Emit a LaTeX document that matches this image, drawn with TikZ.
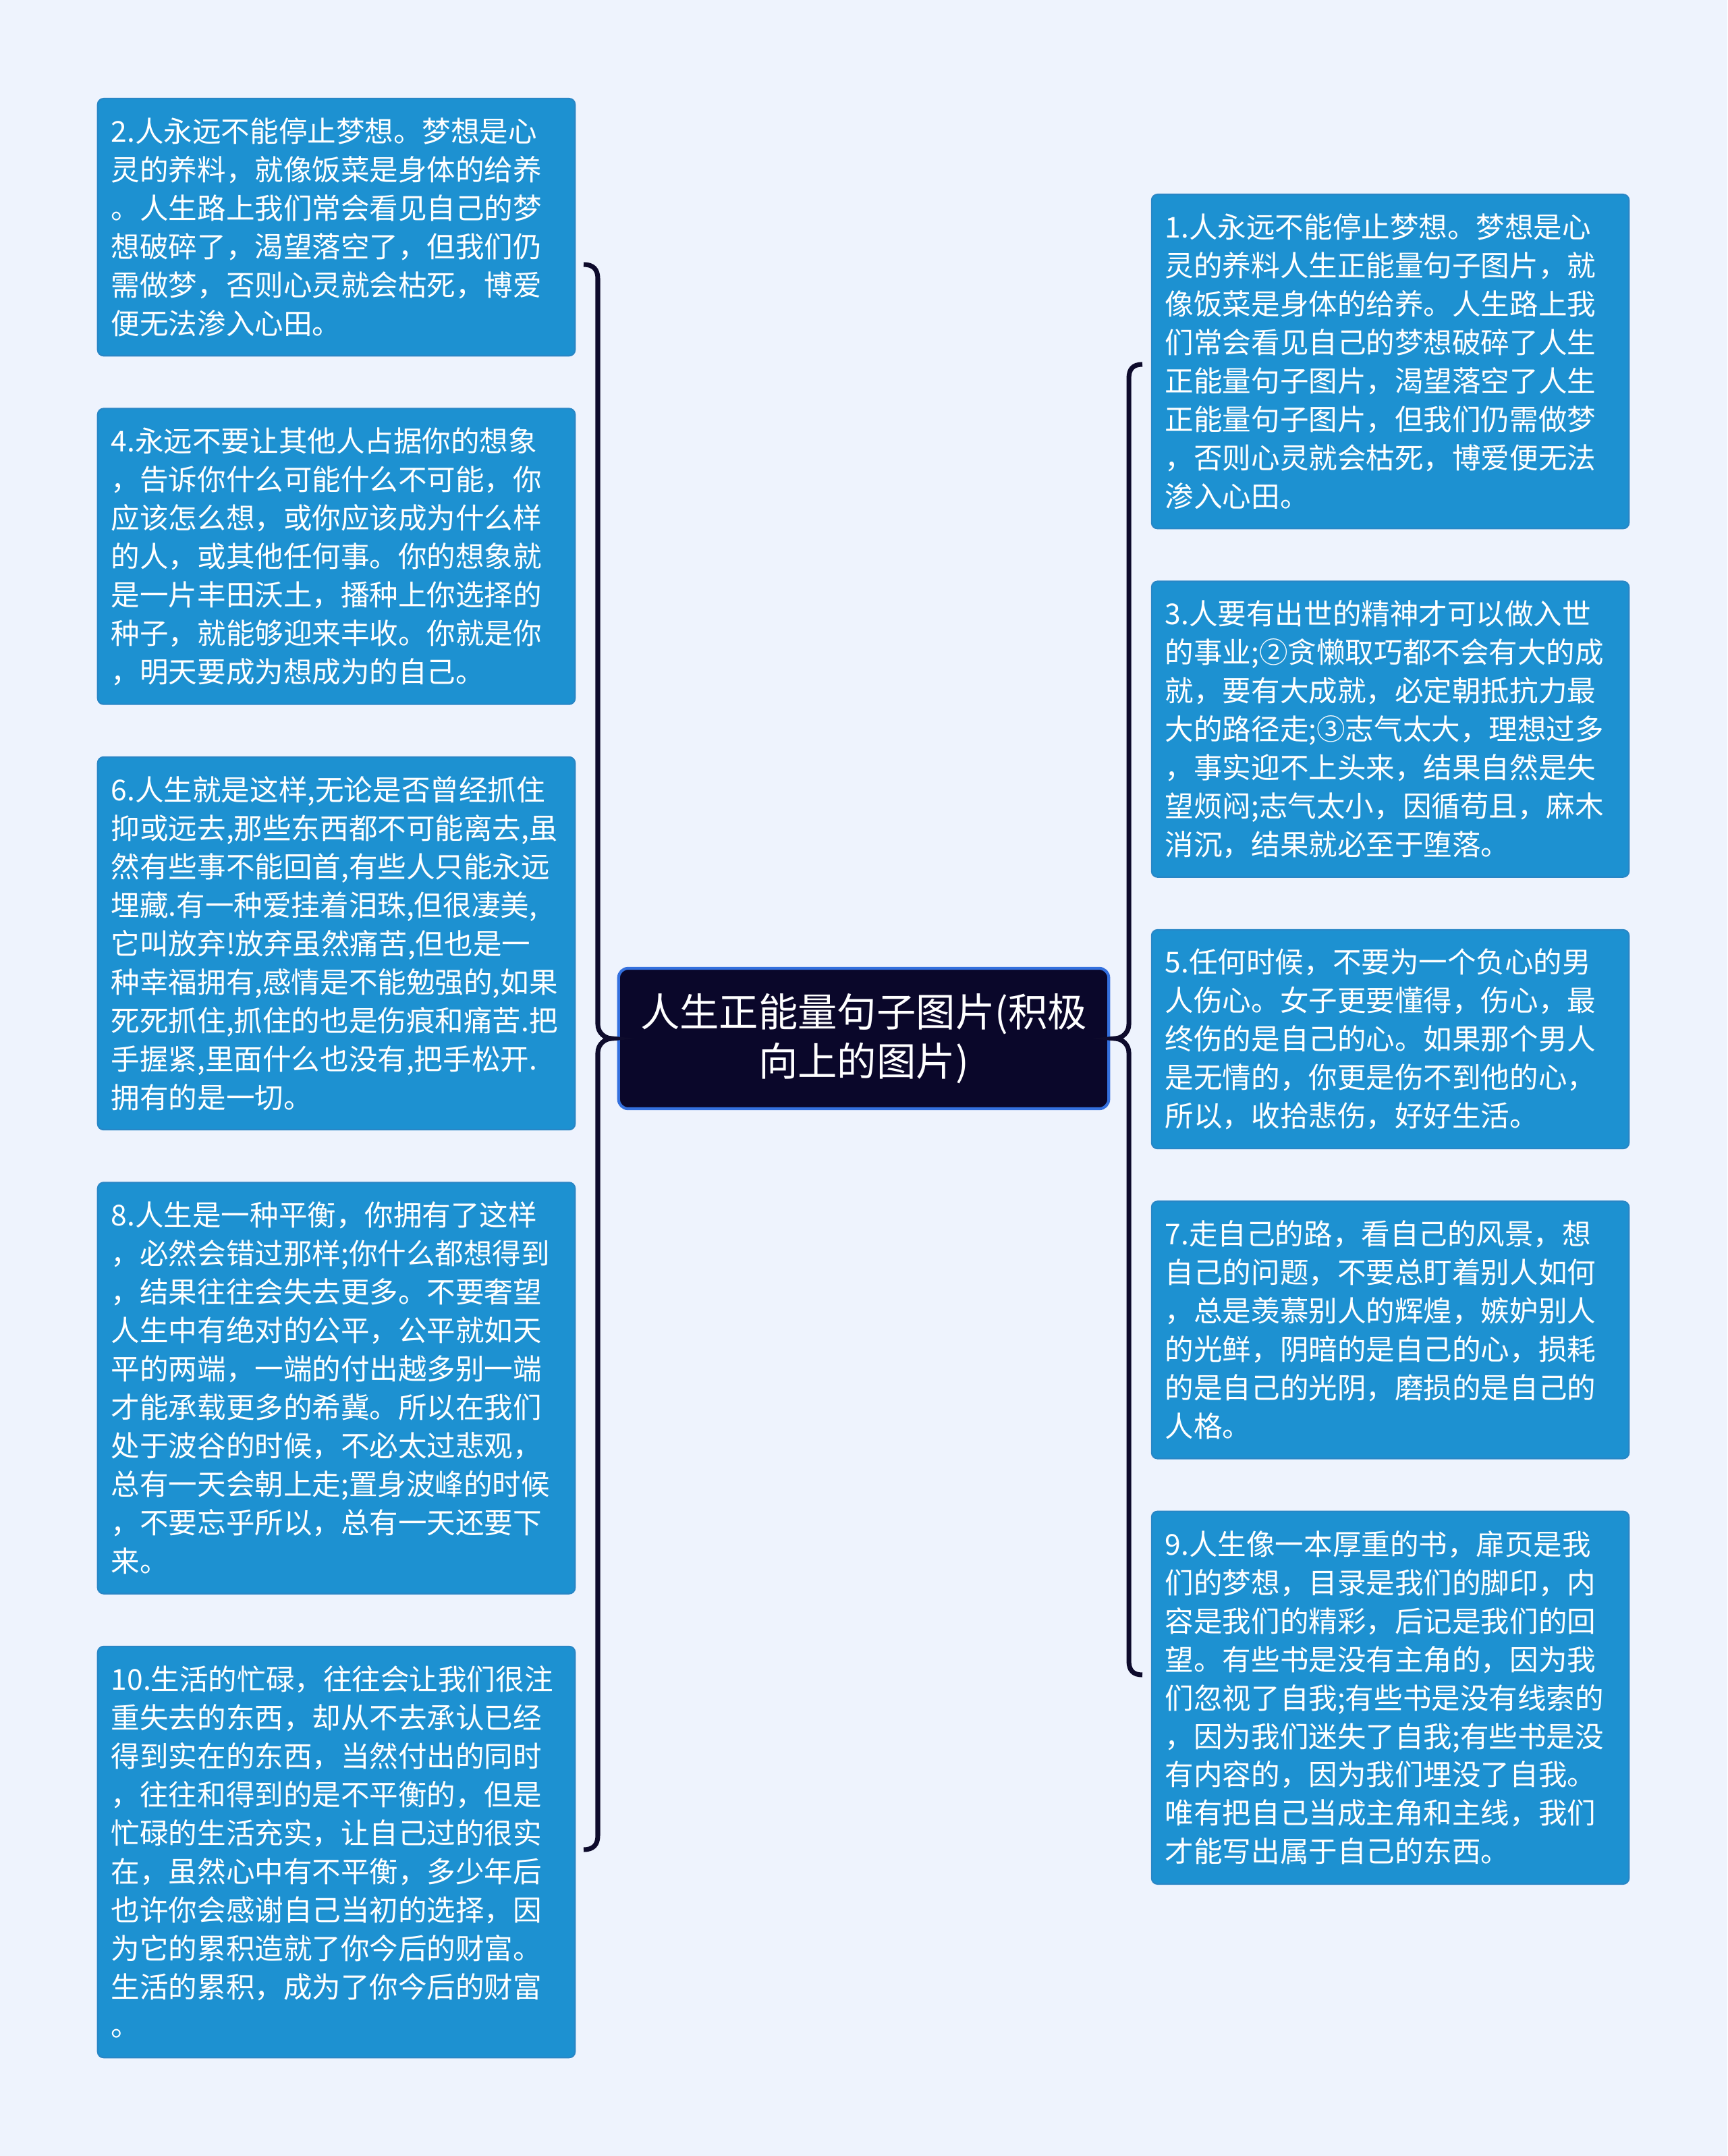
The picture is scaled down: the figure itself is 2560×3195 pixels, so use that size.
\documentclass[tikz,border=0pt]{standalone}
\usepackage{fontspec}
\setmainfont{Noto Sans CJK SC}
\usetikzlibrary{positioning}

\definecolor{bgcol}{RGB}{238,243,253}
\definecolor{leafblue}{RGB}{29,145,209}
\definecolor{leafline}{RGB}{40,134,198}
\definecolor{rootnavy}{RGB}{10,7,42}
\definecolor{rootline}{RGB}{52,112,222}
\definecolor{bracecol}{RGB}{14,11,44}

\begin{document}
\begin{tikzpicture}[
  x=0.01cm, y=-0.01cm,
  leaf/.style={draw=leafline, line width=0.6pt, fill=leafblue, rounded corners=2.5pt,
               text=white, text width=6.67cm, inner xsep=0.2cm, inner ysep=0pt,
               align=left, font=\fontsize{12.1pt}{16.2pt}\selectfont},
  nlines/.style={minimum height=#1*0.57cm+0.39cm},
  root/.style={draw=rootline, line width=1.2pt, fill=rootnavy, rounded corners=4pt,
               text=white, minimum width=7.26cm, minimum height=2.08cm, align=center,
               font=\fontsize{16.6pt}{20.8pt}\selectfont},
  brc/.style={draw=bracecol, line width=2pt}
]
\fill[bgcol] (0,0) rectangle (2560,3195);
\useasboundingbox (0,0) rectangle (2560,3195);

\node[root] (root) at (1280,1539) {人生正能量句子图片(积极\\向上的图片)};

% left column
\node[leaf, nlines=6, anchor=north] (b2) at (498.5,145)
  {2.人永远不能停止梦想。梦想是心\\灵的养料，就像饭菜是身体的给养\\。人生路上我们常会看见自己的梦\\想破碎了，渴望落空了，但我们仍\\需做梦，否则心灵就会枯死，博爱\\便无法渗入心田。};
\node[leaf, nlines=7, below=0.76cm of b2] (b4)
  {4.永远不要让其他人占据你的想象\\，告诉你什么可能什么不可能，你\\应该怎么想，或你应该成为什么样\\的人，或其他任何事。你的想象就\\是一片丰田沃土，播种上你选择的\\种子，就能够迎来丰收。你就是你\\，明天要成为想成为的自己。};
\node[leaf, nlines=9, below=0.76cm of b4] (b6)
  {6.人生就是这样,无论是否曾经抓住\\抑或远去,那些东西都不可能离去,虽\\然有些事不能回首,有些人只能永远\\埋藏.有一种爱挂着泪珠,但很凄美,\\它叫放弃!放弃虽然痛苦,但也是一\\种幸福拥有,感情是不能勉强的,如果\\死死抓住,抓住的也是伤痕和痛苦.把\\手握紧,里面什么也没有,把手松开.\\拥有的是一切。};
\node[leaf, nlines=10, below=0.76cm of b6] (b8)
  {8.人生是一种平衡，你拥有了这样\\，必然会错过那样;你什么都想得到\\，结果往往会失去更多。不要奢望\\人生中有绝对的公平，公平就如天\\平的两端，一端的付出越多别一端\\才能承载更多的希冀。所以在我们\\处于波谷的时候，不必太过悲观，\\总有一天会朝上走;置身波峰的时候\\，不要忘乎所以，总有一天还要下\\来。};
\node[leaf, nlines=10, below=0.76cm of b8] (b10)
  {10.生活的忙碌，往往会让我们很注\\重失去的东西，却从不去承认已经\\得到实在的东西，当然付出的同时\\，往往和得到的是不平衡的，但是\\忙碌的生活充实，让自己过的很实\\在，虽然心中有不平衡，多少年后\\也许你会感谢自己当初的选择，因\\为它的累积造就了你今后的财富。\\生活的累积，成为了你今后的财富\\。};

% right column
\node[leaf, nlines=8, anchor=north] (b1) at (2060.5,287)
  {1.人永远不能停止梦想。梦想是心\\灵的养料人生正能量句子图片，就\\像饭菜是身体的给养。人生路上我\\们常会看见自己的梦想破碎了人生\\正能量句子图片，渴望落空了人生\\正能量句子图片，但我们仍需做梦\\，否则心灵就会枯死，博爱便无法\\渗入心田。};
\node[leaf, nlines=7, below=0.76cm of b1] (b3)
  {3.人要有出世的精神才可以做入世\\的事业;②贪懒取巧都不会有大的成\\就，要有大成就，必定朝抵抗力最\\大的路径走;③志气太大，理想过多\\，事实迎不上头来，结果自然是失\\望烦闷;志气太小，因循苟且，麻木\\消沉，结果就必至于堕落。};
\node[leaf, nlines=5, below=0.76cm of b3] (b5)
  {5.任何时候，不要为一个负心的男\\人伤心。女子更要懂得，伤心，最\\终伤的是自己的心。如果那个男人\\是无情的，你更是伤不到他的心，\\所以，收拾悲伤，好好生活。};
\node[leaf, nlines=6, below=0.76cm of b5] (b7)
  {7.走自己的路，看自己的风景，想\\自己的问题，不要总盯着别人如何\\，总是羡慕别人的辉煌，嫉妒别人\\的光鲜，阴暗的是自己的心，损耗\\的是自己的光阴，磨损的是自己的\\人格。};
\node[leaf, nlines=9, below=0.76cm of b7] (b9)
  {9.人生像一本厚重的书，扉页是我\\们的梦想，目录是我们的脚印，内\\容是我们的精彩，后记是我们的回\\望。有些书是没有主角的，因为我\\们忽视了自我;有些书是没有线索的\\，因为我们迷失了自我;有些书是没\\有内容的，因为我们埋没了自我。\\唯有把自己当成主角和主线，我们\\才能写出属于自己的东西。};

% braces
\coordinate (ltop) at (865,392);
\coordinate (ltip) at (907,1539);
\coordinate (lbot) at (865,2741);
\coordinate (rtop) at (1693,540);
\coordinate (rtip) at (1652,1539);
\coordinate (rbot) at (1693,2482);
\draw[brc] (ltop) .. controls (879,392) and (886,399) .. (886,413) -- (886,1518)
  .. controls (886,1530) and (896,1539) .. (ltip)
  .. controls (896,1539) and (886,1548) .. (886,1560) -- (886,2720)
  .. controls (886,2734) and (879,2741) .. (lbot);
\draw[brc] (rtop) .. controls (1679,540) and (1673,547) .. (1673,561) -- (1673,1518)
  .. controls (1673,1530) and (1663,1539) .. (rtip)
  .. controls (1663,1539) and (1673,1548) .. (1673,1560) -- (1673,2461)
  .. controls (1673,2475) and (1679,2482) .. (rbot);
\end{tikzpicture}
\end{document}
